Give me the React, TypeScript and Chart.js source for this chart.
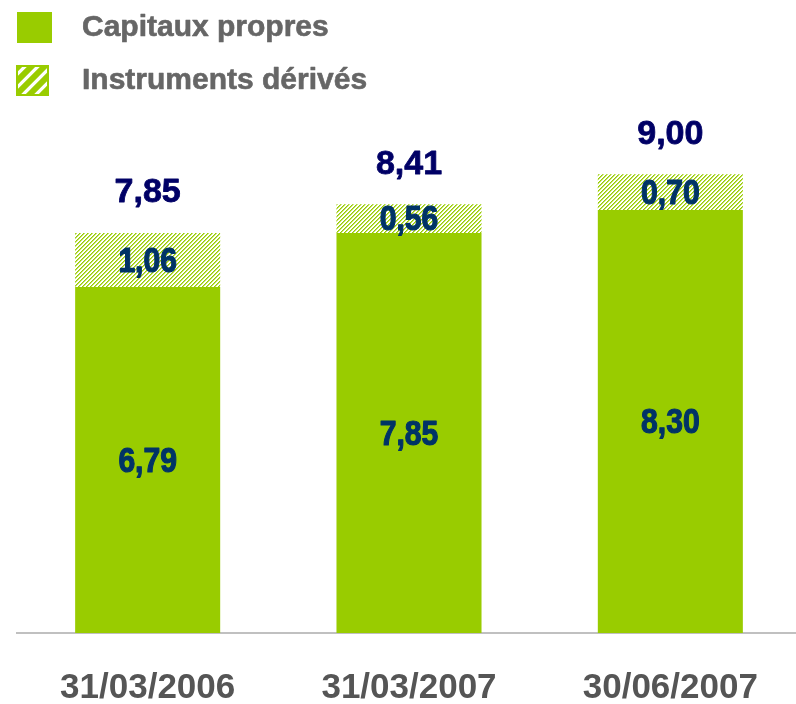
import React, { useEffect, useRef } from "react";
import { Chart, registerables } from "chart.js";

Chart.register(...registerables);

const categories = ["31/03/2006", "31/03/2007", "30/06/2007"];
const capitauxPropres = [6.79, 7.85, 8.3];
const instrumentsDerives = [1.06, 0.56, 0.7];
const seriesNames = ["Capitaux propres", "Instruments dérivés"];

const GREEN = "#99cc00";
const fmt = (v: number) => v.toFixed(2).replace(".", ",");
const ARIAL = '"Liberation Sans", Arial, sans-serif';

function makePattern(ctx: CanvasRenderingContext2D): CanvasPattern | string {
  const c = document.createElement("canvas");
  c.width = 4;
  c.height = 4;
  const p = c.getContext("2d");
  if (!p) return GREEN;
  p.fillStyle = "#ffffff";
  p.fillRect(0, 0, 4, 4);
  for (let x = 0; x < 4; x++) {
    for (let y = 0; y < 4; y++) {
      const d = (x + y) % 4;
      if (d === 0 || d === 1) {
        p.fillStyle = d === 0 ? GREEN : "#c0e060";
        p.fillRect(x, y, 1, 1);
      }
    }
  }
  return ctx.createPattern(c, "repeat") || GREEN;
}

function boldText(ctx: CanvasRenderingContext2D, text: string, x: number, y: number, color: string, stroke: number) {
  ctx.fillStyle = color;
  ctx.strokeStyle = color;
  ctx.lineWidth = stroke;
  ctx.lineJoin = "round";
  ctx.strokeText(text, x, y);
  ctx.fillText(text, x, y);
}

const labelsPlugin = {
  id: "customLabels",
  afterDatasetsDraw(chart: any) {
    const ctx = chart.ctx as CanvasRenderingContext2D;
    ctx.save();
    ctx.textAlign = "center";
    ctx.textBaseline = "middle";
    // inside labels (condensed bold)
    chart.data.datasets.forEach((ds: any, di: number) => {
      const meta = chart.getDatasetMeta(di);
      meta.data.forEach((el: any, i: number) => {
        const { x, y, base } = el.getProps(["x", "y", "base"], true);
        ctx.save();
        ctx.translate(x, (y + base) / 2 + 2);
        ctx.scale(0.86, 1);
        ctx.font = `bold 35px ${ARIAL}`;
        boldText(ctx, fmt(ds.data[i]), 0, 0, "#003366", 1.2);
        ctx.restore();
      });
    });
    // totals
    const lastMeta = chart.getDatasetMeta(chart.data.datasets.length - 1);
    lastMeta.data.forEach((el: any, i: number) => {
      const { x, y } = el.getProps(["x", "y"], true);
      const total = chart.data.datasets.reduce((s: number, d: any) => s + d.data[i], 0);
      ctx.font = `bold 34px ${ARIAL}`;
      boldText(ctx, fmt(total), x, y - 40, "#000066", 0.8);
    });
    ctx.restore();
  },
  afterDraw(chart: any) {
    const ctx = chart.ctx as CanvasRenderingContext2D;
    ctx.save();
    // legend item 1
    ctx.fillStyle = GREEN;
    ctx.fillRect(17, 12, 35, 31);
    // legend item 2 (hatched box)
    ctx.save();
    ctx.beginPath();
    ctx.rect(16, 65, 33, 31);
    ctx.clip();
    ctx.fillStyle = "#ffffff";
    ctx.fillRect(16, 65, 33, 31);
    ctx.strokeStyle = GREEN;
    ctx.lineWidth = 6;
    for (let k = -40; k < 80; k += 13) {
      ctx.beginPath();
      ctx.moveTo(16 + k, 96);
      ctx.lineTo(16 + k + 31, 65);
      ctx.stroke();
    }
    ctx.restore();
    ctx.strokeStyle = GREEN;
    ctx.lineWidth = 2;
    ctx.strokeRect(17, 66, 31, 29);
    ctx.font = `bold 30px ${ARIAL}`;
    ctx.textAlign = "left";
    ctx.textBaseline = "middle";
    boldText(ctx, chart.data.datasets[0].label, 82, 28, "#666666", 0.6);
    boldText(ctx, chart.data.datasets[1].label, 82, 81, "#666666", 0.6);
    ctx.restore();
  },
};

export default function App() {
  const ref = useRef<HTMLCanvasElement | null>(null);
  useEffect(() => {
    const canvas = ref.current;
    if (!canvas) return;
    const ctx = canvas.getContext("2d");
    if (!ctx) return;
    const pattern = makePattern(ctx);
    const chart = new Chart(ctx, {
      type: "bar",
      data: {
        labels: categories,
        datasets: [
          { label: seriesNames[0], data: capitauxPropres, backgroundColor: GREEN, borderWidth: 0 },
          { label: seriesNames[1], data: instrumentsDerives, backgroundColor: pattern as any, borderWidth: 0 },
        ],
      },
      options: {
        responsive: false,
        animation: false,
        maintainAspectRatio: false,
        layout: { padding: { left: 17, right: 1, top: 108, bottom: 0 } },
        datasets: { bar: { categoryPercentage: 1, barPercentage: 0.555 } },
        plugins: { legend: { display: false }, tooltip: { enabled: false }, title: { display: false } },
        scales: {
          x: {
            stacked: true,
            grid: { display: false, drawTicks: false },
            border: { display: true, color: "#c0c0c0", width: 2 },
            ticks: { color: "#555555", font: { family: ARIAL, size: 35, weight: "bold" }, padding: 34, maxRotation: 0 },
            afterFit: (scale: any) => {
              scale.height = 71;
            },
          },
          y: { stacked: true, display: false, min: 0, max: 10.3 },
        },
      },
      plugins: [labelsPlugin],
    } as any);
    return () => chart.destroy();
  }, []);
  return (
    <div style={{ position: "fixed", left: 0, top: 0, width: 796, height: 704, overflow: "hidden", background: "#fff" }}>
      <canvas ref={ref} width={802} height={704} style={{ display: "block", width: 802, height: 704 }} />
    </div>
  );
}
